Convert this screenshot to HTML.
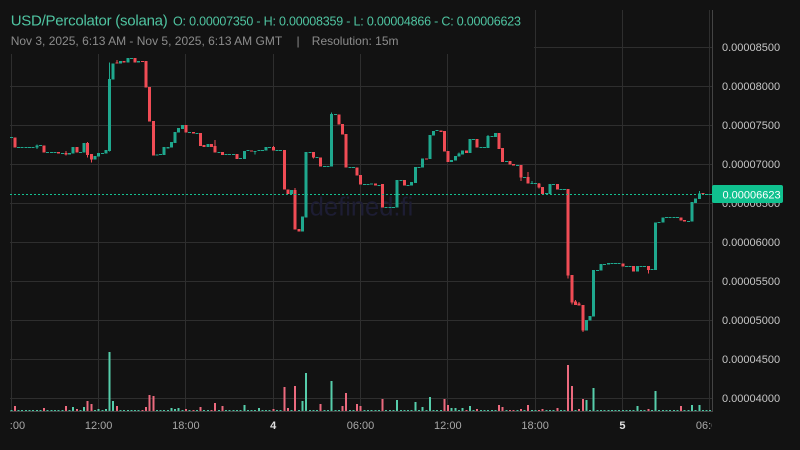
<!DOCTYPE html>
<html><head><meta charset="utf-8"><style>
html,body{margin:0;padding:0;background:#121212;}
svg{display:block;font-family:"Liberation Sans",sans-serif;}
</style></head><body>
<svg width="800" height="450" viewBox="0 0 800 450" xmlns="http://www.w3.org/2000/svg">
<defs>
<clipPath id="plot"><rect x="10" y="10" width="702" height="401.5"/></clipPath>
<clipPath id="xl"><rect x="10" y="412" width="702" height="38"/></clipPath>
</defs>
<rect width="800" height="450" fill="#121212"/>
<!-- grid -->
<g stroke="#2e2e2e" stroke-width="1" shape-rendering="crispEdges">
<line x1="10" y1="47.5" x2="712" y2="47.5"/>
<line x1="10" y1="86.5" x2="712" y2="86.5"/>
<line x1="10" y1="125.5" x2="712" y2="125.5"/>
<line x1="10" y1="164.5" x2="712" y2="164.5"/>
<line x1="10" y1="203.5" x2="712" y2="203.5"/>
<line x1="10" y1="242.5" x2="712" y2="242.5"/>
<line x1="10" y1="281.5" x2="712" y2="281.5"/>
<line x1="10" y1="320.5" x2="712" y2="320.5"/>
<line x1="10" y1="359.5" x2="712" y2="359.5"/>
<line x1="10" y1="398.5" x2="712" y2="398.5"/>
<line x1="11.5" y1="10" x2="11.5" y2="411"/>
<line x1="98.5" y1="10" x2="98.5" y2="411"/>
<line x1="185.5" y1="10" x2="185.5" y2="411"/>
<line x1="273.5" y1="10" x2="273.5" y2="411"/>
<line x1="360.5" y1="10" x2="360.5" y2="411"/>
<line x1="447.5" y1="10" x2="447.5" y2="411"/>
<line x1="535.5" y1="10" x2="535.5" y2="411"/>
<line x1="622.5" y1="10" x2="622.5" y2="411"/>
<line x1="709.5" y1="10" x2="709.5" y2="411"/>
</g>
<!-- header cover -->
<rect x="0" y="0" width="534" height="54" fill="#121212"/>
<!-- watermark -->
<text x="361.5" y="215.5" font-size="25.5" text-anchor="middle" fill="#1d1d33">defined.fi</text>

<g clip-path="url(#plot)" shape-rendering="crispEdges">
<!-- volume baseline dashes -->
<line x1="10.3" y1="410.5" x2="712" y2="410.5" stroke="#4fc7a6" stroke-width="1" stroke-dasharray="2 1.64"/>
<!-- volumes green -->
<g fill="#56cdab">
<rect x="35.78" y="410" width="2" height="1"/>
<rect x="72.18" y="407" width="2" height="4"/>
<rect x="83.1" y="407" width="2" height="4"/>
<rect x="94.02" y="410" width="2" height="1"/>
<rect x="97.66" y="409" width="2" height="2"/>
<rect x="104.94" y="409" width="2" height="2"/>
<rect x="108.58" y="352" width="2" height="59"/>
<rect x="112.22" y="401" width="2" height="10"/>
<rect x="126.78" y="410" width="2" height="1"/>
<rect x="170.46" y="408" width="2" height="3"/>
<rect x="174.1" y="409" width="2" height="2"/>
<rect x="177.74" y="408" width="2" height="3"/>
<rect x="243.26" y="405" width="2" height="6"/>
<rect x="257.82" y="408" width="2" height="3"/>
<rect x="301.5" y="401" width="2" height="10"/>
<rect x="305.14" y="373" width="2" height="38"/>
<rect x="330.62" y="381" width="2" height="30"/>
<rect x="370.66" y="410" width="2" height="1"/>
<rect x="396.14" y="400" width="2" height="11"/>
<rect x="414.34" y="402" width="2" height="9"/>
<rect x="421.62" y="407" width="2" height="4"/>
<rect x="428.9" y="397" width="2" height="14"/>
<rect x="450.74" y="408" width="2" height="3"/>
<rect x="454.38" y="408" width="2" height="3"/>
<rect x="461.66" y="408" width="2" height="3"/>
<rect x="468.94" y="406" width="2" height="5"/>
<rect x="530.82" y="410" width="2" height="1"/>
<rect x="549.02" y="410" width="2" height="1"/>
<rect x="585.42" y="400" width="2" height="11"/>
<rect x="592.7" y="388" width="2" height="23"/>
<rect x="607.26" y="410" width="2" height="1"/>
<rect x="636.38" y="406" width="2" height="5"/>
<rect x="654.58" y="391" width="2" height="20"/>
<rect x="690.98" y="405" width="2" height="6"/>
<rect x="698.26" y="405" width="2" height="6"/>
</g>
<!-- volumes red -->
<g fill="#ec6a7e">
<rect x="13.94" y="406" width="2" height="5"/>
<rect x="43.06" y="408" width="2" height="3"/>
<rect x="64.9" y="406" width="2" height="5"/>
<rect x="75.82" y="409" width="2" height="2"/>
<rect x="86.74" y="401" width="2" height="10"/>
<rect x="90.38" y="404" width="2" height="7"/>
<rect x="115.86" y="406" width="2" height="5"/>
<rect x="141.34" y="410" width="2" height="1"/>
<rect x="144.98" y="407" width="2" height="4"/>
<rect x="148.62" y="395" width="2" height="16"/>
<rect x="152.26" y="396" width="2" height="15"/>
<rect x="185.02" y="409" width="2" height="2"/>
<rect x="192.3" y="410" width="2" height="1"/>
<rect x="199.58" y="407" width="2" height="4"/>
<rect x="210.5" y="410" width="2" height="1"/>
<rect x="214.14" y="403" width="2" height="8"/>
<rect x="221.42" y="406" width="2" height="5"/>
<rect x="272.38" y="409" width="2" height="2"/>
<rect x="283.3" y="387" width="2" height="24"/>
<rect x="286.94" y="408" width="2" height="3"/>
<rect x="294.22" y="386" width="2" height="25"/>
<rect x="319.7" y="404" width="2" height="7"/>
<rect x="341.54" y="406" width="2" height="5"/>
<rect x="345.18" y="393" width="2" height="18"/>
<rect x="356.1" y="404" width="2" height="7"/>
<rect x="359.74" y="406" width="2" height="5"/>
<rect x="381.58" y="399" width="2" height="12"/>
<rect x="443.46" y="399" width="2" height="12"/>
<rect x="447.1" y="405" width="2" height="6"/>
<rect x="465.3" y="410" width="2" height="1"/>
<rect x="476.22" y="409" width="2" height="2"/>
<rect x="498.06" y="405" width="2" height="6"/>
<rect x="501.7" y="407" width="2" height="4"/>
<rect x="508.98" y="410" width="2" height="1"/>
<rect x="512.62" y="410" width="2" height="1"/>
<rect x="519.9" y="409" width="2" height="2"/>
<rect x="527.18" y="405" width="2" height="6"/>
<rect x="538.1" y="410" width="2" height="1"/>
<rect x="541.74" y="409" width="2" height="2"/>
<rect x="556.3" y="408" width="2" height="3"/>
<rect x="567.22" y="365" width="2" height="46"/>
<rect x="570.86" y="386" width="2" height="25"/>
<rect x="578.14" y="409" width="2" height="2"/>
<rect x="581.78" y="399" width="2" height="12"/>
<rect x="647.3" y="409" width="2" height="2"/>
<rect x="680.06" y="406" width="2" height="5"/>
</g>

<!-- green candles -->
<g fill="#1fa88e">
<rect x="9.8" y="137" width="3" height="1"/>
<rect x="17.08" y="147" width="3" height="1"/>
<rect x="20.72" y="147" width="3" height="1"/>
<rect x="24.36" y="147" width="3" height="1"/>
<rect x="28.0" y="147" width="3" height="1"/>
<rect x="31.64" y="147" width="3" height="1"/>
<rect x="35.28" y="145.3" width="3" height="2.4"/><rect x="36.28" y="144.3" width="1" height="4.7"/>
<rect x="38.92" y="145" width="3" height="1"/>
<rect x="46.2" y="152" width="3" height="1"/>
<rect x="49.84" y="152" width="3" height="1"/>
<rect x="53.48" y="152" width="3" height="1"/>
<rect x="60.76" y="153" width="3" height="1"/>
<rect x="68.04" y="153" width="3" height="1.7"/>
<rect x="71.68" y="147" width="3" height="6.3"/>
<rect x="78.96" y="152" width="3" height="1"/>
<rect x="82.6" y="143" width="3" height="9.7"/>
<rect x="93.52" y="156" width="3" height="3.7"/>
<rect x="97.16" y="153" width="3" height="3.7"/>
<rect x="100.8" y="153" width="3" height="1"/>
<rect x="104.44" y="150" width="3" height="3.3"/>
<rect x="108.08" y="79" width="3" height="72"/><rect x="109.08" y="62.7" width="1" height="89"/>
<rect x="111.72" y="63.3" width="3" height="16.4"/>
<rect x="119.0" y="61" width="3" height="2.7"/>
<rect x="126.28" y="58" width="3" height="4.7"/>
<rect x="129.92" y="58" width="3" height="1"/>
<rect x="137.2" y="61" width="3" height="1.7"/>
<rect x="155.4" y="154.3" width="3" height="1.4"/>
<rect x="159.04" y="154" width="3" height="1"/>
<rect x="162.68" y="147" width="3" height="8"/>
<rect x="166.32" y="147" width="3" height="1.3"/>
<rect x="169.96" y="142" width="3" height="5.7"/>
<rect x="173.6" y="132" width="3" height="11"/>
<rect x="177.24" y="128" width="3" height="4.7"/>
<rect x="180.88" y="125" width="3" height="4"/>
<rect x="188.16" y="132" width="3" height="1"/>
<rect x="195.44" y="133" width="3" height="1"/>
<rect x="206.36" y="144" width="3" height="3"/>
<rect x="217.28" y="152" width="3" height="1"/>
<rect x="224.56" y="154" width="3" height="1"/>
<rect x="228.2" y="154" width="3" height="1"/>
<rect x="231.84" y="154" width="3" height="1"/>
<rect x="239.12" y="158" width="3" height="1"/>
<rect x="242.76" y="151" width="3" height="8"/>
<rect x="246.4" y="150" width="3" height="1"/>
<rect x="253.68" y="151" width="3" height="1"/><rect x="254.68" y="151" width="1" height="3.3"/>
<rect x="257.32" y="150" width="3" height="1"/>
<rect x="260.96" y="150" width="3" height="1"/>
<rect x="264.6" y="147" width="3" height="3.7"/>
<rect x="268.24" y="147" width="3" height="1"/>
<rect x="275.52" y="150" width="3" height="1"/>
<rect x="279.16" y="150" width="3" height="1"/>
<rect x="290.08" y="190" width="3" height="4"/>
<rect x="301.0" y="216.7" width="3" height="15"/>
<rect x="304.64" y="152" width="3" height="65.7"/>
<rect x="308.28" y="152" width="3" height="1"/>
<rect x="315.56" y="157" width="3" height="1"/>
<rect x="322.84" y="166" width="3" height="1"/>
<rect x="326.48" y="166" width="3" height="1"/>
<rect x="330.12" y="114" width="3" height="52.7"/><rect x="331.12" y="112.3" width="1" height="2"/>
<rect x="333.76" y="114" width="3" height="1"/>
<rect x="348.32" y="167" width="3" height="1"/>
<rect x="351.96" y="167" width="3" height="1"/>
<rect x="362.88" y="184" width="3" height="1"/>
<rect x="366.52" y="184" width="3" height="1"/>
<rect x="370.16" y="183.3" width="3" height="1.4"/>
<rect x="377.44" y="185" width="3" height="1"/>
<rect x="384.72" y="207" width="3" height="1"/>
<rect x="388.36" y="207" width="3" height="1"/>
<rect x="392.0" y="207" width="3" height="1"/>
<rect x="395.64" y="180" width="3" height="27.7"/>
<rect x="399.28" y="180" width="3" height="1"/>
<rect x="406.56" y="185" width="3" height="1"/>
<rect x="410.2" y="182" width="3" height="3.7"/>
<rect x="413.84" y="167" width="3" height="16"/>
<rect x="417.48" y="167" width="3" height="1"/>
<rect x="421.12" y="158.3" width="3" height="9.4"/>
<rect x="428.4" y="135" width="3" height="24"/>
<rect x="432.04" y="131" width="3" height="4.7"/>
<rect x="435.68" y="130" width="3" height="1"/>
<rect x="450.24" y="160" width="3" height="2"/>
<rect x="453.88" y="156" width="3" height="4.7"/>
<rect x="457.52" y="153.3" width="3" height="3.4"/><rect x="458.52" y="152.3" width="1" height="1"/>
<rect x="461.16" y="150.3" width="3" height="4.4"/>
<rect x="468.44" y="139" width="3" height="14"/>
<rect x="472.08" y="139" width="3" height="1"/>
<rect x="479.36" y="147" width="3" height="1"/>
<rect x="483.0" y="147" width="3" height="1"/>
<rect x="486.64" y="136" width="3" height="12"/><rect x="487.64" y="135" width="1" height="1"/>
<rect x="490.28" y="136" width="3" height="1"/>
<rect x="493.92" y="133" width="3" height="4"/>
<rect x="504.84" y="161" width="3" height="1"/>
<rect x="515.76" y="165" width="3" height="1"/>
<rect x="523.04" y="177" width="3" height="1"/>
<rect x="530.32" y="183" width="3" height="1"/><rect x="531.32" y="181" width="1" height="2"/>
<rect x="533.96" y="183" width="3" height="1"/>
<rect x="544.88" y="193" width="3" height="1"/>
<rect x="548.52" y="184" width="3" height="10"/>
<rect x="552.16" y="184" width="3" height="1"/>
<rect x="559.44" y="189" width="3" height="1"/>
<rect x="563.08" y="189" width="3" height="1"/>
<rect x="584.92" y="320" width="3" height="10.7"/>
<rect x="588.56" y="316" width="3" height="4.7"/>
<rect x="592.2" y="270" width="3" height="46.7"/>
<rect x="595.84" y="270" width="3" height="1"/>
<rect x="599.48" y="264" width="3" height="6.7"/>
<rect x="603.12" y="264" width="3" height="1"/>
<rect x="606.76" y="263" width="3" height="1.7"/>
<rect x="610.4" y="263" width="3" height="1"/>
<rect x="614.04" y="263" width="3" height="1"/>
<rect x="617.68" y="263" width="3" height="1"/>
<rect x="624.96" y="266" width="3" height="1"/>
<rect x="628.6" y="266" width="3" height="1"/>
<rect x="635.88" y="266" width="3" height="5.7"/>
<rect x="639.52" y="266" width="3" height="1"/>
<rect x="643.16" y="266" width="3" height="1"/>
<rect x="650.44" y="269" width="3" height="1"/>
<rect x="654.08" y="222.3" width="3" height="47.7"/>
<rect x="657.72" y="222" width="3" height="1"/>
<rect x="661.36" y="217.3" width="3" height="5.4"/>
<rect x="665.0" y="217" width="3" height="1"/>
<rect x="668.64" y="217" width="3" height="1"/>
<rect x="672.28" y="217" width="3" height="1"/>
<rect x="675.92" y="217" width="3" height="1"/>
<rect x="686.84" y="221" width="3" height="1"/>
<rect x="690.48" y="202" width="3" height="19.7"/>
<rect x="694.12" y="198.3" width="3" height="4.7"/>
<rect x="697.76" y="193.3" width="3" height="5.7"/><rect x="698.76" y="191" width="1" height="2.3"/>
<rect x="705.04" y="194" width="3" height="1"/>
<rect x="708.68" y="194" width="3" height="1"/>
</g>
<!-- red candles -->
<g fill="#f04c55">
<rect x="13.44" y="137.3" width="3" height="10.4"/>
<rect x="42.56" y="145.3" width="3" height="7.4"/>
<rect x="57.12" y="152" width="3" height="1.7"/>
<rect x="64.4" y="153" width="3" height="1.7"/><rect x="65.4" y="151" width="1" height="4.3"/>
<rect x="75.32" y="147" width="3" height="5.7"/>
<rect x="86.24" y="143" width="3" height="12"/><rect x="87.24" y="142" width="1" height="15.7"/>
<rect x="89.88" y="154" width="3" height="5.7"/><rect x="90.88" y="154" width="1" height="8.7"/>
<rect x="115.36" y="62.7" width="3" height="1"/><rect x="116.36" y="60" width="1" height="3.7"/>
<rect x="122.64" y="61" width="3" height="1.7"/>
<rect x="133.56" y="58" width="3" height="4.7"/>
<rect x="140.84" y="61" width="3" height="1"/>
<rect x="144.48" y="61" width="3" height="26.7"/>
<rect x="148.12" y="87" width="3" height="34.7"/>
<rect x="151.76" y="121" width="3" height="34.7"/>
<rect x="184.52" y="125" width="3" height="7.7"/>
<rect x="191.8" y="132" width="3" height="1.7"/>
<rect x="199.08" y="133" width="3" height="13"/>
<rect x="202.72" y="145" width="3" height="2"/>
<rect x="210.0" y="144" width="3" height="3"/>
<rect x="213.64" y="146" width="3" height="6.7"/><rect x="214.64" y="140" width="1" height="6"/>
<rect x="220.92" y="152" width="3" height="3"/>
<rect x="235.48" y="154" width="3" height="5"/>
<rect x="250.04" y="150.3" width="3" height="1.4"/>
<rect x="271.88" y="147" width="3" height="3.7"/><rect x="272.88" y="146" width="1" height="1"/>
<rect x="282.8" y="150" width="3" height="39.3"/>
<rect x="286.44" y="189.3" width="3" height="4.7"/>
<rect x="293.72" y="190" width="3" height="39.7"/><rect x="294.72" y="188" width="1" height="2"/>
<rect x="297.36" y="229" width="3" height="2.7"/>
<rect x="311.92" y="152" width="3" height="5.3"/><rect x="312.92" y="157.3" width="1" height="1.4"/>
<rect x="319.2" y="157.3" width="3" height="9.4"/>
<rect x="337.4" y="114.3" width="3" height="10.4"/>
<rect x="341.04" y="124" width="3" height="10.7"/>
<rect x="344.68" y="134" width="3" height="33.7"/>
<rect x="355.6" y="167.3" width="3" height="8"/>
<rect x="359.24" y="175" width="3" height="9.7"/>
<rect x="373.8" y="183.3" width="3" height="2.4"/>
<rect x="381.08" y="184" width="3" height="23.7"/>
<rect x="402.92" y="180" width="3" height="5.7"/>
<rect x="424.76" y="158.3" width="3" height="1"/>
<rect x="439.32" y="130.3" width="3" height="1.7"/>
<rect x="442.96" y="131" width="3" height="20.7"/>
<rect x="446.6" y="151" width="3" height="11"/>
<rect x="464.8" y="150.3" width="3" height="2.7"/>
<rect x="475.72" y="139" width="3" height="8.7"/>
<rect x="497.56" y="133" width="3" height="16"/>
<rect x="501.2" y="148" width="3" height="14"/>
<rect x="508.48" y="161" width="3" height="3.7"/>
<rect x="512.12" y="164" width="3" height="1.7"/>
<rect x="519.4" y="165" width="3" height="12.7"/><rect x="520.4" y="165" width="1" height="16"/>
<rect x="526.68" y="177" width="3" height="6.7"/><rect x="527.68" y="172" width="1" height="5"/>
<rect x="537.6" y="183.3" width="3" height="4.4"/><rect x="538.6" y="183" width="1" height="5.7"/>
<rect x="541.24" y="187" width="3" height="7"/>
<rect x="555.8" y="184" width="3" height="5.7"/>
<rect x="566.72" y="189" width="3" height="86.7"/><rect x="567.72" y="189" width="1" height="89.7"/>
<rect x="570.36" y="275" width="3" height="27.7"/><rect x="571.36" y="275" width="1" height="29.7"/>
<rect x="574.0" y="301.7" width="3" height="3.3"/><rect x="575" y="300" width="1" height="5"/>
<rect x="577.64" y="303.3" width="3" height="2.4"/><rect x="578.64" y="302" width="1" height="3.7"/>
<rect x="581.28" y="305" width="3" height="25.7"/><rect x="582.28" y="305" width="1" height="27"/>
<rect x="621.32" y="263.3" width="3" height="3.4"/>
<rect x="632.24" y="266" width="3" height="5.7"/>
<rect x="646.8" y="266" width="3" height="4"/><rect x="647.8" y="266" width="1" height="7.7"/>
<rect x="679.56" y="217.3" width="3" height="3.4"/>
<rect x="683.2" y="220" width="3" height="1.7"/>
<rect x="701.4" y="193" width="3" height="1"/>
</g>
</g>
<!-- price line -->
<line x1="10" y1="194.5" x2="712" y2="194.5" stroke="#14c191" stroke-width="1" stroke-dasharray="2 2"/>
<!-- borders -->
<g stroke="#444" stroke-width="1" shape-rendering="crispEdges">
<line x1="712.5" y1="10" x2="712.5" y2="412"/>
<line x1="10" y1="411.5" x2="713" y2="411.5"/>
</g>
<!-- y labels -->
<g font-size="11" fill="#c6c6c6">
<text x="722" y="51">0.00008500</text>
<text x="722" y="90">0.00008000</text>
<text x="722" y="129">0.00007500</text>
<text x="722" y="168">0.00007000</text>
<text x="722" y="207">0.00006500</text>
<text x="722" y="246">0.00006000</text>
<text x="722" y="285">0.00005500</text>
<text x="722" y="324">0.00005000</text>
<text x="722" y="363">0.00004500</text>
<text x="722" y="402">0.00004000</text>
</g>
<!-- price box -->
<rect x="712" y="185" width="71" height="18" rx="2" fill="#10c18f"/>
<text x="722.5" y="198.5" font-size="11" fill="#ffffff">0.00006623</text>
<!-- x labels -->
<g clip-path="url(#xl)" font-size="11" fill="#a8a8a8" text-anchor="middle">
<text x="11.3" y="429">06:00</text>
<text x="98.6" y="429">12:00</text>
<text x="185.9" y="429">18:00</text>
<text x="273.2" y="429" fill="#e0e0e0" font-weight="bold">4</text>
<text x="360.5" y="429">06:00</text>
<text x="447.8" y="429">12:00</text>
<text x="535.1" y="429">18:00</text>
<text x="622.4" y="429" fill="#e0e0e0" font-weight="bold">5</text>
<text x="709.7" y="429">06:00</text>
</g>
<!-- header -->
<text x="10.7" y="25.5" font-size="15" letter-spacing="-0.25" fill="#4fc4a1">USD/Percolator (solana)</text>
<text x="173" y="25.5" font-size="12.5" letter-spacing="-0.2" fill="#4fc4a1">O: 0.00007350 - H: 0.00008359 - L: 0.00004866 - C: 0.00006623</text>
<text x="10.7" y="45" font-size="12" fill="#8c8c8c">Nov 3, 2025, 6:13 AM - Nov 5, 2025, 6:13 AM GMT</text>
<text x="298" y="45" font-size="12" fill="#8c8c8c" text-anchor="middle">|</text>
<text x="311.8" y="45" font-size="12" fill="#8c8c8c">Resolution: 15m</text>
</svg>
</body></html>
